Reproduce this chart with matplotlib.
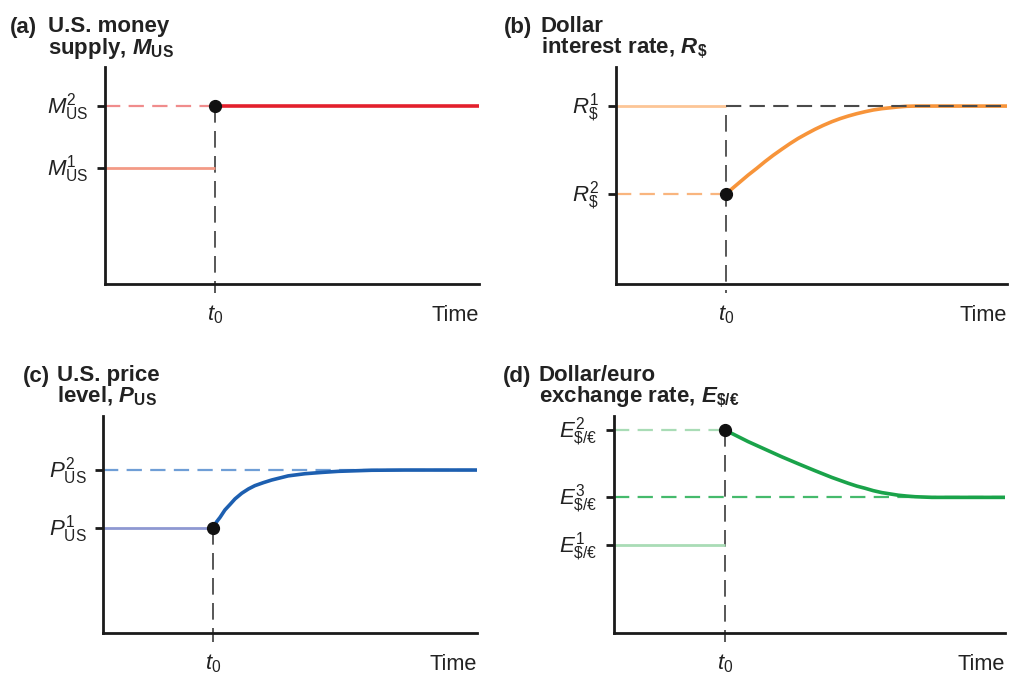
import matplotlib.pyplot as plt

plt.rcParams['font.family'] = ['Liberation Sans', 'DejaVu Sans']
plt.rcParams['mathtext.fontset'] = 'custom'
plt.rcParams['mathtext.rm'] = 'Liberation Sans'
plt.rcParams['mathtext.it'] = 'Liberation Sans:italic'
plt.rcParams['mathtext.bf'] = 'Liberation Sans:bold'
plt.rcParams['mathtext.bfit'] = 'Liberation Sans:bold:italic'
plt.rcParams['lines.scale_dashes'] = False

W, H = 1009, 677

# --- data (chart units: x 0..10 along each time axis, y 0..10 up the axis) ---
t0_a, t0_b, t0_c, t0_d = 2.94, 2.81, 2.94, 2.84

# (a) money supply
money_levels = [5.35, 8.2]          # M1, M2

# (b) dollar interest rate
rate_levels = [8.2, 4.15]           # R1, R2
rate_time = [2.81, 3.38, 3.60, 3.81, 4.02, 4.24, 4.45, 4.66, 4.88, 5.09, 5.30, 5.52,
             5.73, 5.94, 6.16, 6.37, 6.58, 6.80, 7.01, 7.22, 7.43, 7.65, 10.0]
rate_vals = [4.15, 5.02, 5.33, 5.64, 5.93, 6.21, 6.47, 6.71, 6.93, 7.13, 7.31, 7.48,
             7.62, 7.74, 7.85, 7.94, 8.02, 8.08, 8.12, 8.16, 8.19, 8.20, 8.20]

# (c) price level
price_levels = [4.85, 7.5]          # P1, P2
price_time = [2.94, 3.04, 3.13, 3.26, 3.40, 3.53, 3.71, 3.89, 4.06, 4.29, 4.51, 4.95,
              5.40, 5.85, 6.29, 7.18, 8.07, 10.0]
price_vals = [4.85, 5.13, 5.33, 5.67, 5.93, 6.18, 6.44, 6.64, 6.79, 6.93, 7.05, 7.24,
              7.34, 7.40, 7.45, 7.50, 7.51, 7.51]

# (d) exchange rate
ex_levels = [4.05, 9.35, 6.25]      # E1, E2, E3
ex_time = [2.84, 3.01, 3.43, 3.86, 4.29, 4.71, 5.14, 5.57, 5.99, 6.21, 6.42, 6.63,
           6.85, 7.06, 7.27, 7.49, 7.70, 8.13, 8.55, 10.0]
ex_vals = [9.35, 9.20, 8.82, 8.47, 8.12, 7.80, 7.48, 7.17, 6.90, 6.77, 6.67, 6.56,
           6.47, 6.41, 6.35, 6.31, 6.28, 6.25, 6.25, 6.25]

money_labels = [r'$M^{1}_{\mathrm{US}}$', r'$M^{2}_{\mathrm{US}}$']
rate_labels = [r'$R^{1}_{\mathrm{\$}}$', r'$R^{2}_{\mathrm{\$}}$']
price_labels = [r'$P^{1}_{\mathrm{US}}$', r'$P^{2}_{\mathrm{US}}$']
ex_labels = [r'$E^{1}_{\mathrm{\$/€}}$', r'$E^{2}_{\mathrm{\$/€}}$', r'$E^{3}_{\mathrm{\$/€}}$']

DASH = (11, 6)
GREY = '#4a4a4a'
TXT = '#222222'

fig = plt.figure(figsize=(W / 100, H / 100), dpi=100)


def make_axes(left, right, top, bottom):
    ax = fig.add_axes([left / W, 1 - bottom / H, (right - left) / W, (bottom - top) / H])
    ax.set_xlim(0, 10)
    ax.set_ylim(0, 10)
    for s in ['top', 'right']:
        ax.spines[s].set_visible(False)
    for s in ['left', 'bottom']:
        ax.spines[s].set_linewidth(2.0)
        ax.spines[s].set_color('#1a1a1a')
        ax.spines[s].set_capstyle('projecting')
    ax.set_xticks([])
    ax.tick_params(axis='y', length=6, width=2.0, color='#1a1a1a', labelleft=False)
    return ax


def decorate(ax, t0, levels, labels):
    ax.set_yticks(levels)
    for lev, lab in zip(levels, labels):
        ax.annotate(lab, xy=(0, lev), xycoords=('axes fraction', 'data'),
                    xytext=(-12, -5.5), textcoords='offset points',
                    ha='right', va='baseline', fontsize=16, color=TXT)
    ax.annotate(r'$t_{0}$', xy=(t0, 0), xycoords='data', xytext=(0, -26.5),
                textcoords='offset points', ha='center', va='baseline',
                fontsize=16, color=TXT, annotation_clip=False)
    ax.annotate('Time', xy=(1, 0), xycoords='axes fraction', xytext=(0, -26.5),
                textcoords='offset points', ha='right', va='baseline',
                fontsize=15.7, color=TXT, annotation_clip=False)


def vline(ax, t0, top):
    ax.plot([t0, t0], [top, -0.4], color=GREY, lw=1.3, dashes=(12, 6), clip_on=False, zorder=2)


def dot(ax, t0, y):
    ax.plot([t0], [y], 'o', color='#111111', ms=8.5, zorder=6, clip_on=False)


def curve(ax, xs, ys, color):
    ax.plot(xs, ys, color=color, lw=2.6, zorder=3, solid_joinstyle='round',
            solid_capstyle='butt')


# (a)
ax = make_axes(105, 479, 67, 284)
vline(ax, t0_a, money_levels[1])
ax.plot([0, t0_a], [money_levels[0]] * 2, color='#f39a86', lw=2.0, solid_capstyle='butt')
ax.plot([0, t0_a], [money_levels[1]] * 2, color='#f08c8c', lw=1.6, dashes=DASH)
ax.plot([t0_a, 10], [money_levels[1]] * 2, color='#e3202c', lw=2.6, solid_capstyle='butt')
dot(ax, t0_a, money_levels[1])
decorate(ax, t0_a, money_levels, money_labels)

# (b)
ax = make_axes(616, 1007, 67, 284)
vline(ax, t0_b, rate_levels[0] - 0.4)
ax.plot([0, t0_b], [rate_levels[0]] * 2, color='#fcc596', lw=2.0, solid_capstyle='butt')
ax.plot([t0_b, 10], [rate_levels[0]] * 2, color=GREY, lw=1.5, dashes=DASH, zorder=4)
ax.plot([0, t0_b], [rate_levels[1]] * 2, color='#f9b57e', lw=1.6, dashes=DASH)
curve(ax, rate_time, rate_vals, '#f7943a')
dot(ax, t0_b, rate_levels[1])
decorate(ax, t0_b, rate_levels, rate_labels)

# (c)
ax = make_axes(103, 477, 416, 633)
vline(ax, t0_c, price_levels[0])
ax.plot([0, t0_c], [price_levels[0]] * 2, color='#8e98d2', lw=2.0, solid_capstyle='butt')
ax.plot([0, 10], [price_levels[1]] * 2, color='#6f9ed6', lw=1.6, dashes=DASH)
curve(ax, price_time, price_vals, '#1d5fb0')
dot(ax, t0_c, price_levels[0])
decorate(ax, t0_c, price_levels, price_labels)

# (d)
ax = make_axes(614, 1005, 416, 633)
vline(ax, t0_d, ex_levels[1])
ax.plot([0, t0_d], [ex_levels[0]] * 2, color='#a9dcb6', lw=2.0, solid_capstyle='butt')
ax.plot([0, t0_d], [ex_levels[1]] * 2, color='#a9dcb6', lw=1.6, dashes=DASH)
ax.plot([0, 10], [ex_levels[2]] * 2, color='#45ba6c', lw=1.6, dashes=DASH)
curve(ax, ex_time, ex_vals, '#1aa34a')
dot(ax, t0_d, ex_levels[1])
decorate(ax, t0_d, ex_levels, ex_labels)


# panel titles: tag plus a two-line heading drawn as a single text
def title(x_tag, x_text, y1, tag, heading):
    kw = dict(fontsize=16, fontweight='bold', color=TXT)
    fig.text(x_tag / W, 1 - y1 / H, tag, ha='left', va='baseline', **kw)
    fig.text(x_text / W, 1 - (y1 - 17) / H, heading, ha='left', va='top',
             linespacing=0.92, **kw)


title(10, 48, 33, '(a)', 'U.S. money\n' + r'supply, $\mathbfit{M}_{\mathbf{US}}$')
title(504, 541, 33, '(b)', 'Dollar\n' + r'interest rate, $\mathbfit{R}_{\mathbf{\$}}$')
title(23, 57, 382, '(c)', 'U.S. price\n' + r'level, $\mathbfit{P}_{\mathbf{US}}$')
title(503, 539, 382, '(d)', 'Dollar/euro\n' + r'exchange rate, $\mathbfit{E}_{\mathbf{\$/€}}$')

fig.savefig('out.png', dpi=100, facecolor='white')
